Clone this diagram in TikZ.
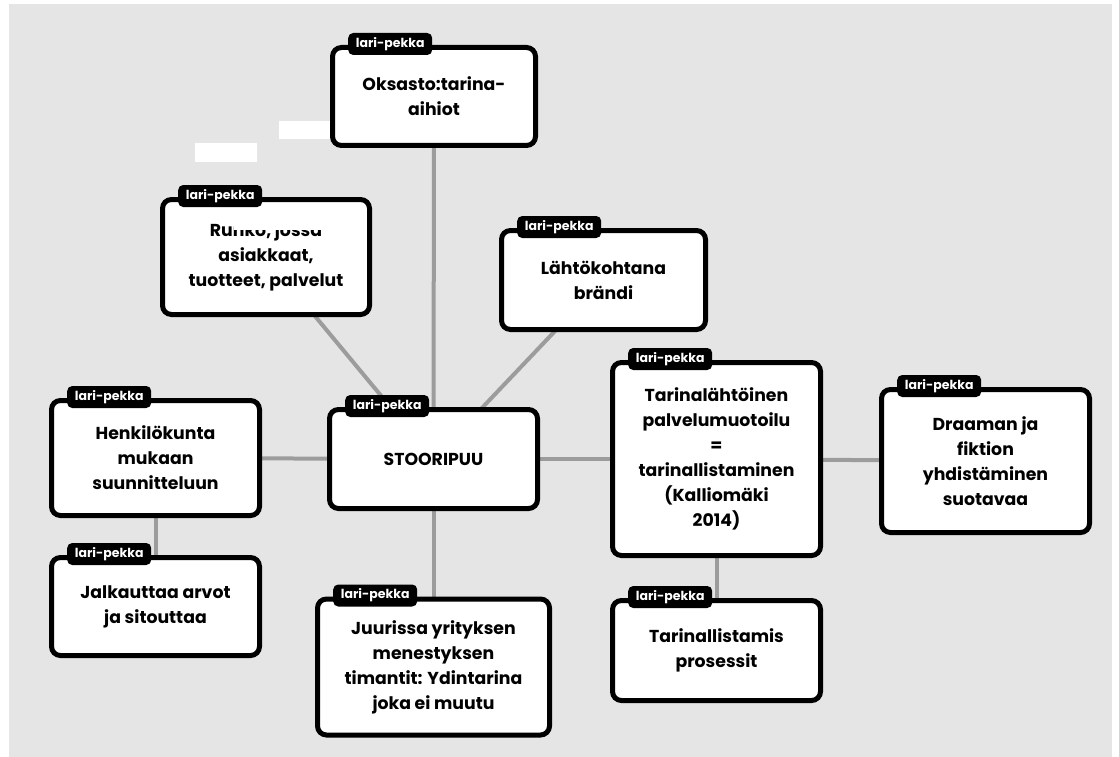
\documentclass[tikz,border=0pt]{standalone}
\usepackage{fontspec}
\setmainfont{Poppins}
\definecolor{canvasgray}{HTML}{E5E5E5}
\definecolor{linkgray}{HTML}{9C9C9C}
\pgfdeclarelayer{back}
\pgfdeclarelayer{links}
\pgfsetlayers{back,links,main}
\begin{document}
\begin{tikzpicture}[x=1pt,y=-1pt,
  card/.style={draw=black, line width=5pt, fill=white, rounded corners=9pt,
    align=center, inner sep=0pt, font=\bfseries\fontsize{17.3}{25}\selectfont},
  tag/.style={fill=black, text=white, rounded corners=5pt, anchor=west,
    minimum width=84pt, minimum height=22pt, inner sep=0pt,
    font=\bfseries\fontsize{12.5}{13}\selectfont},
  link/.style={draw=linkgray, line width=4pt}]

\useasboundingbox (0,0) rectangle (1119,757);
\begin{pgfonlayer}{back}
  \fill[canvasgray] (9,4) rectangle (1112,757);
\end{pgfonlayer}

% stray white patches
\fill[white] (195,143) rectangle (257,162);
\fill[white] (279,121) rectangle (330,139);

% cards
\node[card, minimum width=203pt, minimum height=98pt] (oks) at (434,96.5) {Oksasto:tarina-\\aihiot};
\node[card, minimum width=207pt, minimum height=115pt] (run) at (266,257) {Runko, jossa\\asiakkaat,\\tuotteet, palvelut};
\node[card, minimum width=204pt, minimum height=99pt] (lah) at (603.5,280) {Lähtökohtana\\brändi};
\node[card, minimum width=208pt, minimum height=99pt] (sto) at (433.5,459) {STOORIPUU};
\node[card, minimum width=208pt, minimum height=115pt] (hen) at (155.5,458) {Henkilökunta\\mukaan\\suunnitteluun};
\node[card, minimum width=208pt, minimum height=98pt] (jal) at (155.5,606.5) {Jalkauttaa arvot\\ja sitouttaa};
\node[card, minimum width=232pt, minimum height=136pt] (juu) at (433.5,667) {Juurissa yrityksen\\menestyksen\\timantit: Ydintarina\\joka ei muutu};
\node[card, minimum width=208pt, minimum height=193pt] (tar) at (716.5,459) {Tarinalähtöinen\\palvelumuotoilu\\=\\tarinallistaminen\\(Kalliomäki\\2014)};
\node[card, minimum width=208pt, minimum height=100pt] (pro) at (716.5,650.5) {Tarinallistamis\\prosessit};
\node[card, minimum width=208pt, minimum height=143pt] (dra) at (985.5,461) {Draaman ja\\fiktion\\yhdistäminen\\suotavaa};

% the top of the first line in the frame box is wiped out
\fill[white] (234,218) rectangle (331,230);

% name tags
\foreach \c in {oks,run,lah,sto,hen,jal,juu,tar,pro,dra}
  \node[tag] (\c-tag) at ([xshift=18pt,yshift=1pt]\c.north west) {lari-pekka};

% connectors
\begin{pgfonlayer}{links}
  \draw[link] (sto.center) -- (oks.center);
  \draw[link] (sto.center) -- (run.center);
  \draw[link] (sto.center) -- (lah.center);
  \draw[link] (sto.center) -- (hen.center);
  \draw[link] (sto.center) -- (juu.center);
  \draw[link] (sto.center) -- (tar.center);
  \draw[link] (hen.center) -- (jal.center);
  \draw[link] (tar.center) -- (pro.center);
  \draw[link] (tar.center) -- (dra.center);
\end{pgfonlayer}
\end{tikzpicture}
\end{document}
